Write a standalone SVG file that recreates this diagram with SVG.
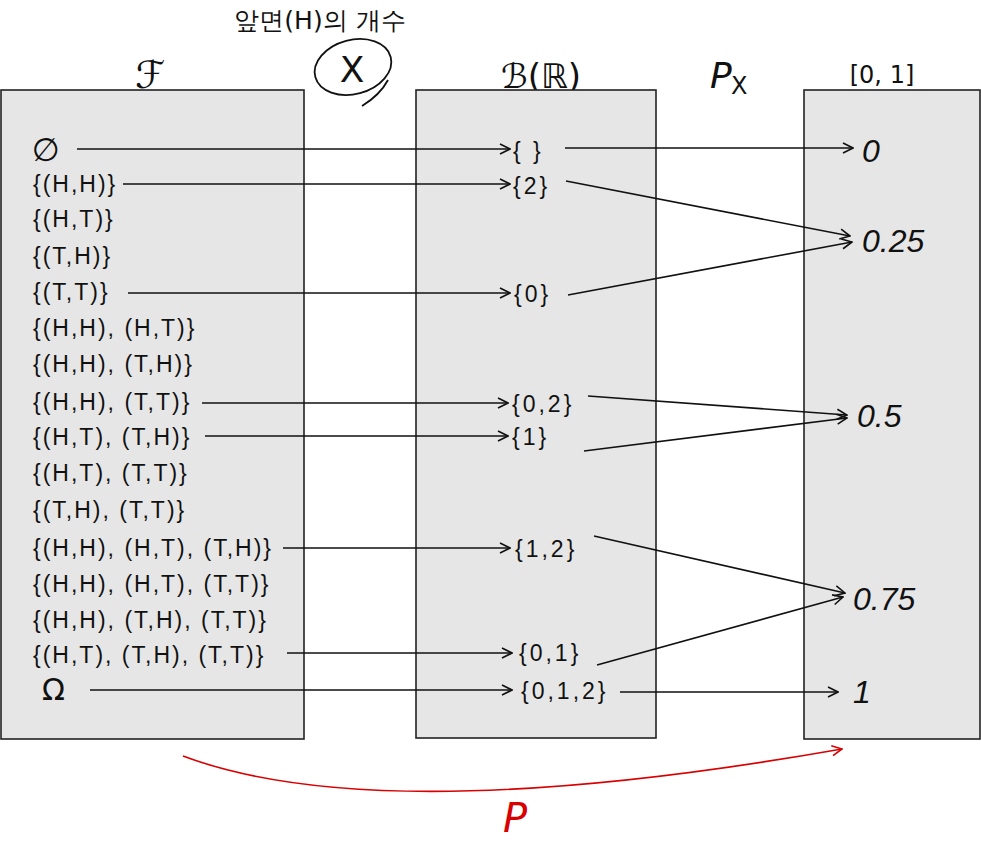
<svg xmlns="http://www.w3.org/2000/svg" width="981" height="844" viewBox="0 0 981 844">
<style>
.box{fill:#e6e6e6;stroke:#222;stroke-width:1.6}
.t{font-family:"Liberation Sans","DejaVu Sans",sans-serif;font-size:23px;letter-spacing:2px;fill:#111}
.m{font-family:"Liberation Sans","DejaVu Sans",sans-serif;font-size:23px;letter-spacing:3px;fill:#111}
.v{font-family:"Liberation Sans","DejaVu Sans",sans-serif;font-size:32px;font-style:italic;fill:#111}
.h{font-family:"DejaVu Sans","Liberation Sans",sans-serif;fill:#111}
.c{stroke:#111;stroke-width:1.6;fill:none;marker-end:url(#ah)}
</style>
<defs>
<marker id="ah" viewBox="0 0 12 12" refX="11" refY="6" markerWidth="12" markerHeight="12" markerUnits="userSpaceOnUse" orient="auto">
<path d="M1,1 L11,6 L1,11" fill="none" stroke="#111" stroke-width="1.6"/>
</marker>
<marker id="ahr" viewBox="0 0 12 12" refX="11" refY="6" markerWidth="12" markerHeight="12" markerUnits="userSpaceOnUse" orient="auto">
<path d="M1,1 L11,6 L1,11" fill="none" stroke="#d80000" stroke-width="1.6"/>
</marker>
</defs>
<rect width="981" height="844" fill="#fff"/>

<g id="labels">
<text x="150" y="88" class="h" font-size="38" font-style="italic" text-anchor="middle">ℱ</text>
<text x="320" y="29" class="h" font-size="25" text-anchor="middle" font-family="Noto Sans CJK KR, sans-serif">앞면(H)의 개수</text>
<text x="541" y="88" class="h" font-size="34" text-anchor="middle">ℬ(ℝ)</text>
<text x="710" y="88" class="h" font-size="36" font-style="italic">P</text>
<text x="731" y="94" class="h" font-size="24">X</text>
<text x="882" y="83" class="h" font-size="24" text-anchor="middle">[0, 1]</text>
</g>

<g id="X-circle">
<ellipse cx="353" cy="67" rx="39" ry="27" transform="rotate(-15 353 67)" fill="none" stroke="#111" stroke-width="1.8"/>
<path d="M388,80 Q380,95 362,106" fill="none" stroke="#111" stroke-width="1.8"/>
<text x="352" y="82" class="h" font-size="36" text-anchor="middle">X</text>
</g>

<g id="F-box">
<rect x="1" y="90" width="303" height="649" class="box"/>
<text x="32" y="161" class="h" font-size="32">∅</text>
<text x="33" y="192" class="t">{(H,H)}</text>
<text x="33" y="227" class="t">{(H,T)}</text>
<text x="33" y="264" class="t">{(T,H)}</text>
<text x="33" y="300" class="t">{(T,T)}</text>
<text x="33" y="336" class="t">{(H,H), (H,T)}</text>
<text x="33" y="372" class="t">{(H,H), (T,H)}</text>
<text x="33" y="410" class="t">{(H,H), (T,T)}</text>
<text x="33" y="445" class="t">{(H,T), (T,H)}</text>
<text x="33" y="481" class="t">{(H,T), (T,T)}</text>
<text x="33" y="518" class="t">{(T,H), (T,T)}</text>
<text x="33" y="556" class="t">{(H,H), (H,T), (T,H)}</text>
<text x="33" y="592" class="t">{(H,H), (H,T), (T,T)}</text>
<text x="33" y="628" class="t">{(H,H), (T,H), (T,T)}</text>
<text x="33" y="663" class="t">{(H,T), (T,H), (T,T)}</text>
<text x="42" y="700" class="h" font-size="30">Ω</text>
</g>

<g id="B-box">
<rect x="416" y="90" width="240" height="648" class="box"/>
<text x="513" y="159" class="m" letter-spacing="8">{ }</text>
<text x="513" y="194" class="m">{2}</text>
<text x="514" y="302" class="m">{0}</text>
<text x="512" y="412" class="m">{0,2}</text>
<text x="512" y="445" class="m">{1}</text>
<text x="515" y="557" class="m">{1,2}</text>
<text x="519" y="661" class="m">{0,1}</text>
<text x="521" y="699" class="m">{0,1,2}</text>
</g>

<g id="I-box">
<rect x="804" y="90" width="176" height="649" class="box"/>
<text x="862" y="162" class="v">0</text>
<text x="862" y="252" class="v">0.25</text>
<text x="857" y="427" class="v">0.5</text>
<text x="853" y="610" class="v">0.75</text>
<text x="853" y="703" class="v">1</text>
</g>

<g id="connectors">
<line x1="77" y1="149" x2="510" y2="149" class="c"/>
<line x1="123" y1="184" x2="510" y2="184" class="c"/>
<line x1="128" y1="293" x2="510" y2="293" class="c"/>
<line x1="202" y1="403" x2="508" y2="403" class="c"/>
<line x1="205" y1="436" x2="508" y2="436" class="c"/>
<line x1="283" y1="548" x2="510" y2="548" class="c"/>
<line x1="287" y1="653" x2="512" y2="653" class="c"/>
<line x1="90" y1="690" x2="512" y2="690" class="c"/>
<line x1="565" y1="148" x2="853" y2="148" class="c"/>
<line x1="566" y1="181" x2="850" y2="236" class="c"/>
<line x1="568" y1="295" x2="852" y2="242" class="c"/>
<line x1="588" y1="396" x2="847" y2="415" class="c"/>
<line x1="584" y1="451" x2="847" y2="418" class="c"/>
<line x1="594" y1="536" x2="845" y2="593" class="c"/>
<line x1="597" y1="665" x2="843" y2="597" class="c"/>
<line x1="620" y1="692" x2="838" y2="692" class="c"/>
<path d="M183,756 Q380,830 842,749" fill="none" stroke="#d80000" stroke-width="1.6" marker-end="url(#ahr)"/>
</g>
<text x="515" y="832" class="h" font-size="40" font-style="italic" style="fill:#d80000" text-anchor="middle">P</text>
</svg>
